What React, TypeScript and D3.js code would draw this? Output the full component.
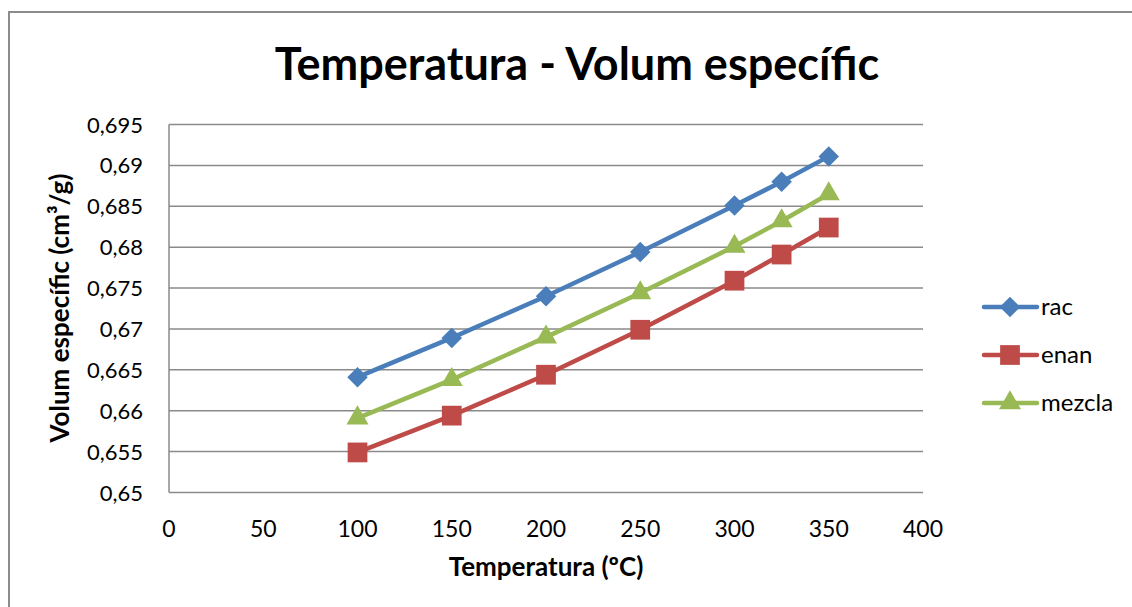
import React from "react";
import * as d3 from "d3";

const temps = [100, 150, 200, 250, 300, 325, 350];
const rac = [0.6641, 0.6689, 0.674, 0.6794, 0.6851, 0.688, 0.6911];
const enan = [0.6549, 0.6594, 0.6644, 0.6699, 0.6759, 0.6791, 0.6824];
const mezcla = [0.6591, 0.6638, 0.669, 0.6744, 0.6801, 0.6832, 0.6865];
const seriesNames = ["rac", "enan", "mezcla"];
const xTicks = [0, 50, 100, 150, 200, 250, 300, 350, 400];
const yTicks = [0.65, 0.655, 0.66, 0.665, 0.67, 0.675, 0.68, 0.685, 0.69, 0.695];

const colors = ["#4A7EBB", "#BE4B48", "#98B954"];
const shapes = [d3.symbolSquare, d3.symbolSquare, d3.symbolTriangle];
const shapeRot = [45, 0, 0];
const shapeSizes = [210, 390, 210];

const W = 1132, H = 607;
const left = 169, right = 923, top = 124.5, bottom = 492.5;
const FONT = "Lato, 'Open Sans', sans-serif";

export default function App() {
  const x = d3.scaleLinear().domain([0, 400]).range([left, right]);
  const y = d3.scaleLinear().domain([0.65, 0.695]).range([bottom, top]);
  const data = [rac, enan, mezcla];
  const line = d3
    .line<number>()
    .x((_, i) => x(temps[i]))
    .y((d) => y(d));
  const fmt = (v: number) => String(+v.toFixed(3)).replace(".", ",");
  const sym = (si: number) => d3.symbol().type(shapes[si]).size(shapeSizes[si])() || "";

  return (
    <svg width={W} height={H} style={{ position: "absolute", left: 0, top: 0, background: "#fff" }}>
      <rect x={9} y={12} width={W + 20} height={H + 20} fill="#fff" stroke="#8c8c8c" strokeWidth={2} />
      <text x={577} y={80} textAnchor="middle" fontFamily={FONT} fontWeight="bold" fontSize={45} fill="#000">
        Temperatura - Volum específic
      </text>
      {yTicks.map((t) => (
        <line key={"g" + t} x1={left} x2={right} y1={y(t)} y2={y(t)} stroke="#8a8a8a" strokeWidth={1.5} />
      ))}
      <line x1={left} x2={left} y1={top} y2={bottom} stroke="#8a8a8a" strokeWidth={1.5} />
      {yTicks.map((t) => (
        <text key={"yl" + t} x={143} y={y(t) + 8} textAnchor="end" fontFamily={FONT} fontSize={22} fill="#000">
          {fmt(t)}
        </text>
      ))}
      {xTicks.map((t) => (
        <text key={"xl" + t} x={x(t)} y={537} textAnchor="middle" fontFamily={FONT} fontSize={23} fill="#000">
          {t}
        </text>
      ))}
      <text x={546} y={576} textAnchor="middle" fontFamily={FONT} fontWeight="bold" fontSize={26} fill="#000">
        Temperatura (ºC)
      </text>
      <text
        transform={`translate(69,${308}) rotate(-90)`}
        textAnchor="middle"
        fontFamily={FONT}
        fontWeight="bold"
        fontSize={26}
        fill="#000"
      >
        Volum específic (cm³/g)
      </text>
      {data.map((s, si) => (
        <g key={"s" + si}>
          <path d={line(s) || ""} fill="none" stroke={colors[si]} strokeWidth={4.5} strokeLinejoin="round" />
          {s.map((v, i) => (
            <path
              key={i}
              d={sym(si)}
              transform={`translate(${x(temps[i])},${y(v)}) rotate(${shapeRot[si]})`}
              fill={colors[si]}
            />
          ))}
        </g>
      ))}
      {seriesNames.map((n, si) => {
        const ly = 307 + si * 48;
        return (
          <g key={"lg" + n}>
            <line x1={984} x2={1037} y1={ly} y2={ly} stroke={colors[si]} strokeWidth={4.5} strokeLinecap="round" />
            <path d={sym(si)} transform={`translate(1010,${ly}) rotate(${shapeRot[si]})`} fill={colors[si]} />
            <text x={1041} y={ly + 8} fontFamily={FONT} fontSize={24} fill="#000">
              {n}
            </text>
          </g>
        );
      })}
    </svg>
  );
}
